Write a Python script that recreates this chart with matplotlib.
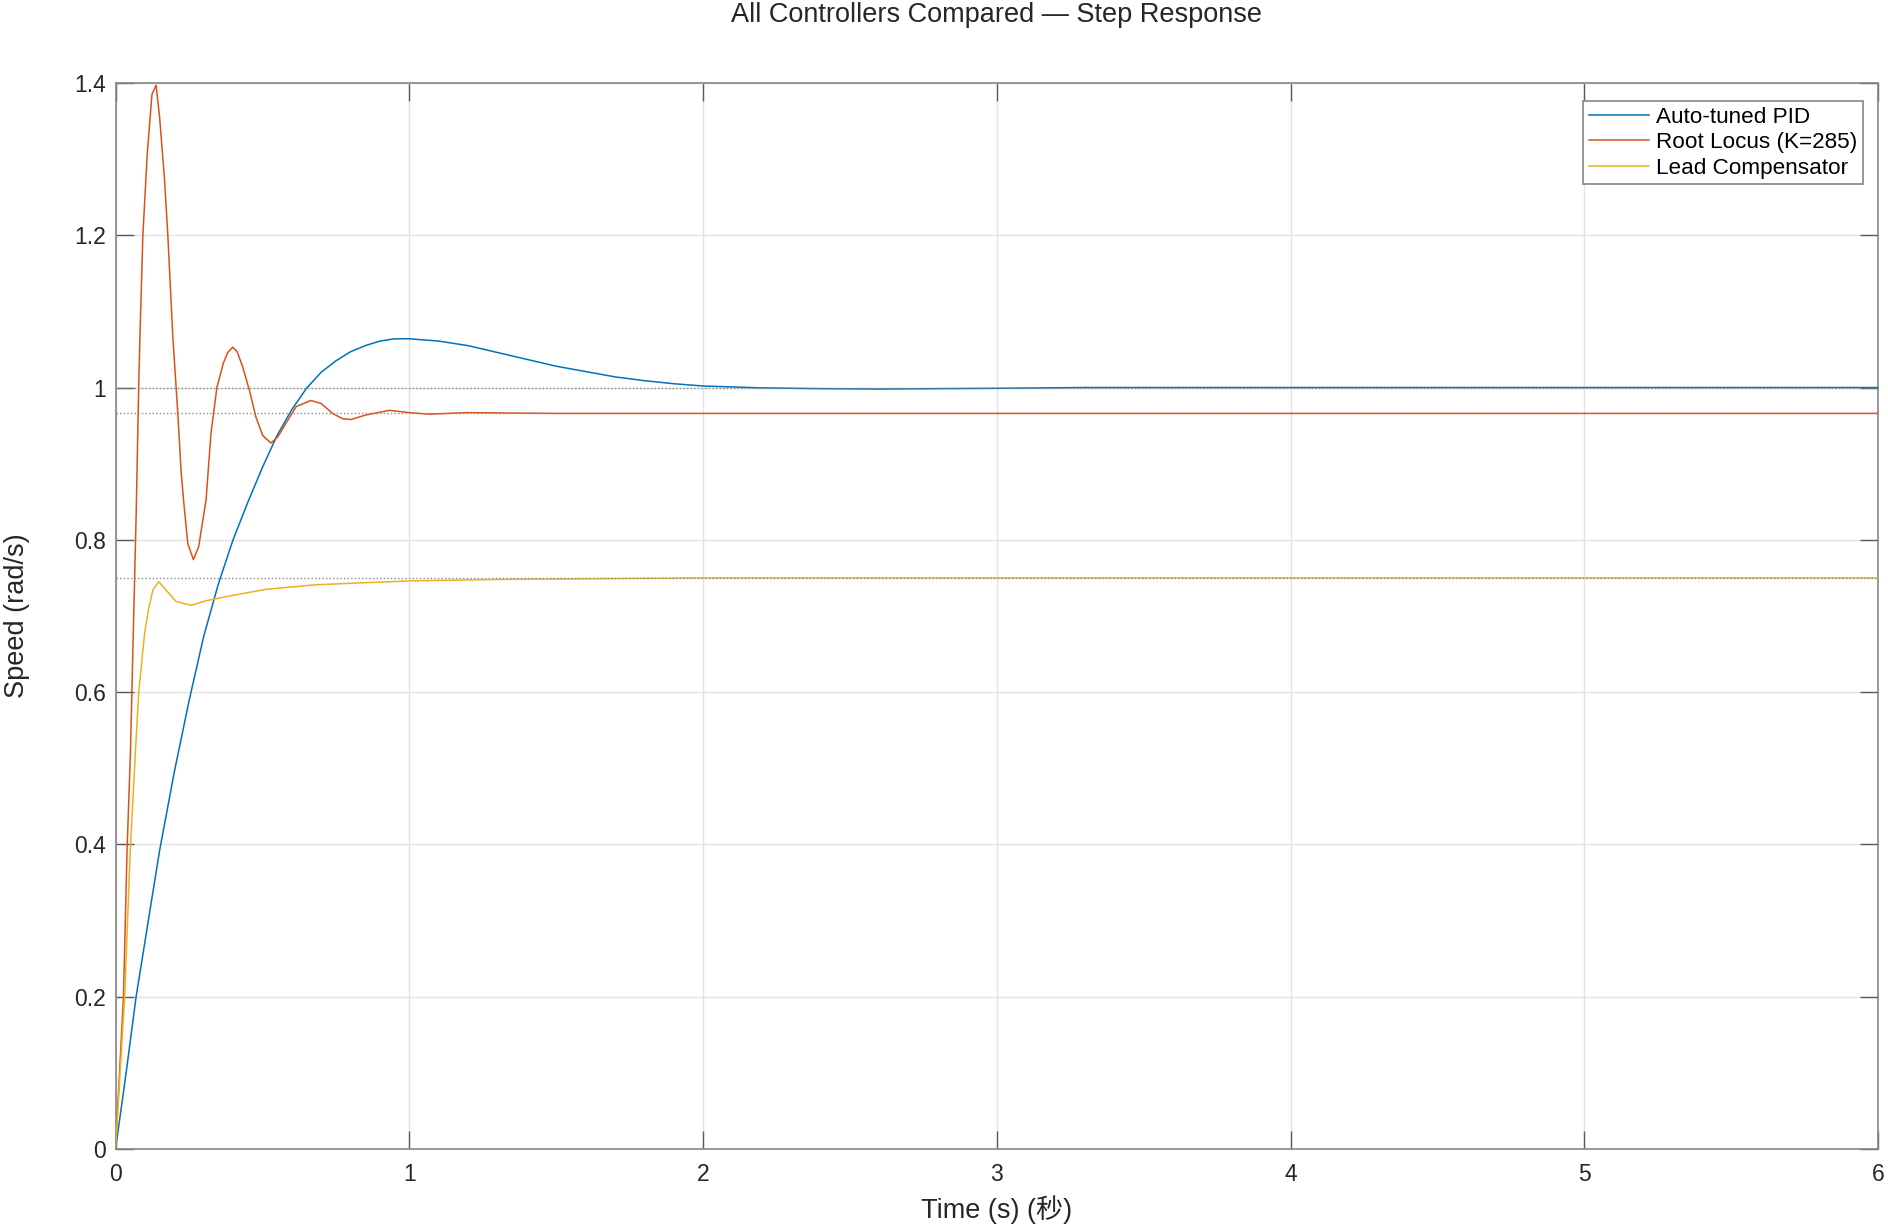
import matplotlib
matplotlib.use("Agg")
import matplotlib.pyplot as plt

# ---- data ----
t_pid = [0.0, 0.036, 0.070, 0.110, 0.150, 0.2, 0.25, 0.3, 0.35, 0.4, 0.45, 0.5,
         0.55, 0.6, 0.65, 0.7, 0.75, 0.8, 0.85, 0.9, 0.95, 1.0, 1.1, 1.2, 1.3, 1.4, 1.5,
         1.6, 1.7, 1.8, 1.9, 2.0, 2.2, 2.4, 2.6, 2.8, 3.0, 3.3, 4.0, 5.0, 6.0]
y_pid = [0.0, 0.100, 0.200, 0.296, 0.392, 0.495, 0.588, 0.673, 0.742, 0.800,
         0.849, 0.895, 0.937, 0.971, 0.999, 1.020, 1.035, 1.047, 1.055, 1.061, 1.064, 1.064,
         1.061, 1.055, 1.046, 1.037, 1.028, 1.021, 1.014, 1.009, 1.005, 1.002, 0.9995, 0.9985,
         0.998, 0.9985, 0.999, 1.0, 1.0, 1.0, 1.0]

t_rl = [0.0, 0.027, 0.039, 0.051, 0.059, 0.070, 0.079, 0.084, 0.093, 0.108, 0.124, 0.138,
        0.150, 0.167, 0.178, 0.195, 0.212, 0.223, 0.232, 0.246, 0.265, 0.283, 0.308,
        0.325, 0.345, 0.367, 0.382, 0.399, 0.414, 0.433, 0.456, 0.478, 0.501, 0.529,
        0.552, 0.580, 0.615, 0.665, 0.700, 0.739, 0.773, 0.802, 0.853, 0.932, 1.0,
        1.068, 1.193, 1.5, 2.0, 3.0, 4.0, 5.0, 6.0]
y_rl = [0.0, 0.200, 0.390, 0.524, 0.655, 0.830, 1.005, 1.080, 1.200, 1.307, 1.385, 1.397,
        1.355, 1.272, 1.200, 1.067, 0.966, 0.891, 0.850, 0.795, 0.774, 0.791, 0.852,
        0.940, 1.000, 1.032, 1.046, 1.053, 1.047, 1.027, 0.996, 0.961, 0.937, 0.927,
        0.935, 0.953, 0.975, 0.983, 0.979, 0.966, 0.959, 0.958, 0.964, 0.970, 0.967,
        0.965, 0.967, 0.966, 0.966, 0.966, 0.966, 0.966, 0.966]

t_lead = [0.0, 0.031, 0.050, 0.068, 0.079, 0.093, 0.099, 0.112, 0.127, 0.147, 0.172,
          0.206, 0.257, 0.308, 0.399, 0.512, 0.683, 1.0, 1.306, 2.0, 3.0, 4.0, 5.0, 6.0]
y_lead = [0.0, 0.200, 0.392, 0.524, 0.600, 0.655, 0.677, 0.708, 0.734, 0.745, 0.734,
          0.719, 0.714, 0.720, 0.727, 0.735, 0.741, 0.746, 0.748, 0.750, 0.750, 0.750, 0.750, 0.750]

ref_levels = [1.0, 0.966, 0.75]
labels = ["Auto-tuned PID", "Root Locus (K=285)", "Lead Compensator"]
colors = ["#0072BD", "#D95319", "#EDB120"]
x_ticks = [0, 1, 2, 3, 4, 5, 6]
y_ticks = [0, 0.2, 0.4, 0.6, 0.8, 1.0, 1.2, 1.4]
y_ticklabels = ["0", "0.2", "0.4", "0.6", "0.8", "1", "1.2", "1.4"]

plt.rcParams['font.family'] = ['Liberation Sans', 'Noto Sans CJK SC', 'DejaVu Sans']

fig = plt.figure(figsize=(18.88, 12.27), dpi=100)
ax = fig.add_axes([0.0612, 0.0636, 0.9335, 0.8688])

for t, y, lab, c in zip([t_pid, t_rl, t_lead], [y_pid, y_rl, y_lead], labels, colors):
    ax.plot(t, y, color=c, lw=1.1, label=lab, zorder=3)

for lvl in ref_levels:
    ax.plot([0, 6], [lvl, lvl], color="#8a8a8a", lw=1.0, linestyle=(0, (1, 1.6)), zorder=4)

ax.set_xlim(0, 6)
ax.set_ylim(0, 1.4)
ax.set_xticks(x_ticks)
ax.set_xticklabels([str(v) for v in x_ticks])
ax.set_yticks(y_ticks)
ax.set_yticklabels(y_ticklabels)

ax.grid(True, color="#e3e3e3", lw=1.0, zorder=0)
ax.set_axisbelow(True)
for s in ax.spines.values():
    s.set_color("#868686")
    s.set_linewidth(1.2)
ax.tick_params(direction='in', length=13, width=1.0, color="#5a5a5a",
               top=True, right=True, labelsize=16.5, labelcolor="#262626")
ax.tick_params(axis='x', pad=10)
ax.tick_params(axis='y', pad=7)

ax.set_xlabel("Time (s) (秒)", fontsize=19.5, color="#262626", labelpad=7)
ax.set_ylabel("Speed (rad/s)", fontsize=19.5, color="#262626", labelpad=32)
ax.set_title("All Controllers Compared — Step Response", fontsize=19.5, color="#262626", pad=44)

leg = ax.legend(loc='upper right', bbox_to_anchor=(0.9915, 0.983), borderaxespad=0,
                fontsize=16.2, frameon=True, fancybox=False, handlelength=2.7,
                handletextpad=0.3, labelspacing=0.2, borderpad=0.25)
leg.get_frame().set_edgecolor("#868686")
leg.get_frame().set_linewidth(1.2)
leg.get_frame().set_alpha(1)

fig.savefig("out.png", dpi=100)
